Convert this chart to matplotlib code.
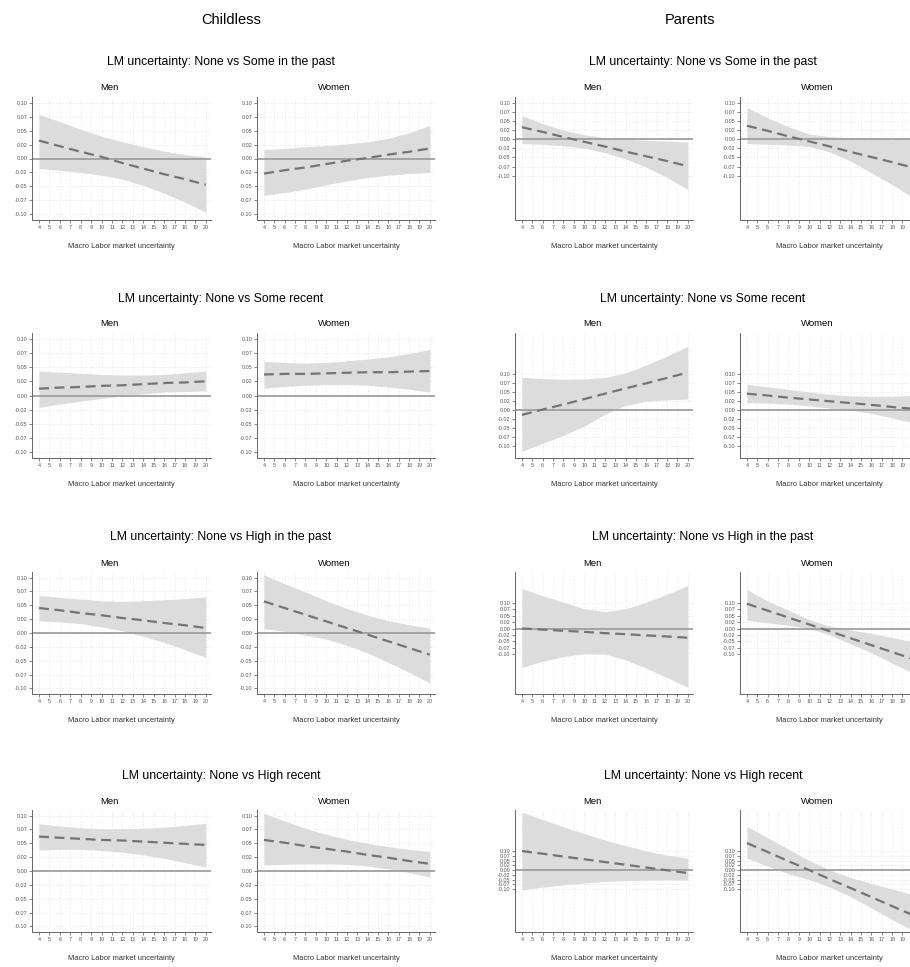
import matplotlib
matplotlib.use("Agg")
import matplotlib.pyplot as plt

plt.rcParams['font.family'] = ['Liberation Sans', 'DejaVu Sans']

# x positions at which the marginal effects are read
x_vals = [4, 6, 8, 10, 12, 14, 16, 18, 20]
x_ticks = list(range(4, 21))
y_ticks = [-0.10, -0.075, -0.05, -0.025, 0.0, 0.025, 0.05, 0.075, 0.10]
y_ticklabels = ["-0.10", "-0.07", "-0.05", "-0.02", "0.00", "0.02", "0.05", "0.07", "0.10"]

groups = ["Childless", "Parents"]
sexes = ["Men", "Women"]
contrasts = [
    "LM uncertainty: None vs Some in the past",
    "LM uncertainty: None vs Some recent",
    "LM uncertainty: None vs High in the past",
    "LM uncertainty: None vs High recent",
]
xlabel = "Macro Labor market uncertainty"

# --- Childless ---
c_some_past_men = [0.032, 0.022, 0.012, 0.003, -0.008, -0.018, -0.028, -0.037, -0.047]
c_some_past_men_lo = [-0.018, -0.021, -0.025, -0.030, -0.037, -0.048, -0.062, -0.078, -0.096]
c_some_past_men_hi = [0.079, 0.066, 0.052, 0.040, 0.030, 0.021, 0.013, 0.007, 0.003]
c_some_past_women = [-0.027, -0.021, -0.016, -0.010, -0.004, 0.001, 0.007, 0.012, 0.018]
c_some_past_women_lo = [-0.066, -0.061, -0.055, -0.047, -0.040, -0.034, -0.030, -0.027, -0.025]
c_some_past_women_hi = [0.016, 0.018, 0.021, 0.023, 0.026, 0.030, 0.036, 0.046, 0.059]

c_some_rec_men = [0.012, 0.014, 0.015, 0.017, 0.018, 0.020, 0.022, 0.023, 0.025]
c_some_rec_men_lo = [-0.021, -0.015, -0.010, -0.005, -0.001, 0.003, 0.006, 0.007, 0.008]
c_some_rec_men_hi = [0.043, 0.041, 0.039, 0.037, 0.036, 0.036, 0.037, 0.040, 0.043]
c_some_rec_women = [0.037, 0.038, 0.038, 0.039, 0.040, 0.041, 0.041, 0.042, 0.043]
c_some_rec_women_lo = [0.013, 0.016, 0.018, 0.019, 0.019, 0.018, 0.015, 0.011, 0.006]
c_some_rec_women_hi = [0.060, 0.058, 0.057, 0.058, 0.061, 0.064, 0.068, 0.074, 0.081]

c_high_past_men = [0.045, 0.041, 0.036, 0.032, 0.027, 0.023, 0.018, 0.014, 0.009]
c_high_past_men_lo = [0.022, 0.020, 0.017, 0.011, 0.004, -0.006, -0.017, -0.030, -0.044]
c_high_past_men_hi = [0.068, 0.064, 0.061, 0.058, 0.057, 0.058, 0.060, 0.062, 0.065]
c_high_past_women = [0.057, 0.045, 0.033, 0.021, 0.009, -0.003, -0.015, -0.027, -0.039]
c_high_past_women_lo = [0.008, 0.003, -0.004, -0.011, -0.022, -0.036, -0.053, -0.071, -0.090]
c_high_past_women_hi = [0.105, 0.089, 0.074, 0.058, 0.044, 0.032, 0.022, 0.015, 0.009]

c_high_rec_men = [0.062, 0.060, 0.058, 0.056, 0.055, 0.053, 0.051, 0.049, 0.047]
c_high_rec_men_lo = [0.038, 0.039, 0.039, 0.037, 0.034, 0.029, 0.023, 0.015, 0.007]
c_high_rec_men_hi = [0.085, 0.081, 0.078, 0.076, 0.076, 0.077, 0.079, 0.082, 0.086]
c_high_rec_women = [0.056, 0.051, 0.045, 0.040, 0.035, 0.029, 0.024, 0.018, 0.013]
c_high_rec_women_lo = [0.011, 0.012, 0.013, 0.013, 0.012, 0.009, 0.004, -0.003, -0.011]
c_high_rec_women_hi = [0.104, 0.090, 0.077, 0.066, 0.057, 0.050, 0.044, 0.039, 0.035]

# --- Parents ---
p_some_past_men = [0.033, 0.020, 0.006, -0.007, -0.020, -0.034, -0.047, -0.060, -0.074]
p_some_past_men_lo = [-0.012, -0.014, -0.018, -0.025, -0.037, -0.054, -0.077, -0.105, -0.138]
p_some_past_men_hi = [0.065, 0.043, 0.025, 0.012, 0.004, 0.000, -0.003, -0.005, -0.008]
p_some_past_women = [0.037, 0.023, 0.008, -0.006, -0.020, -0.035, -0.049, -0.063, -0.078]
p_some_past_women_lo = [-0.012, -0.014, -0.016, -0.020, -0.035, -0.060, -0.092, -0.125, -0.160]
p_some_past_women_hi = [0.087, 0.059, 0.034, 0.014, 0.007, 0.004, 0.003, 0.002, 0.001]

p_some_rec_men = [-0.014, 0.001, 0.015, 0.030, 0.045, 0.060, 0.074, 0.089, 0.104]
p_some_rec_men_lo = [-0.115, -0.093, -0.071, -0.045, -0.012, 0.012, 0.024, 0.028, 0.030]
p_some_rec_men_hi = [0.090, 0.087, 0.085, 0.086, 0.090, 0.103, 0.125, 0.150, 0.177]
p_some_rec_women = [0.045, 0.040, 0.034, 0.029, 0.024, 0.019, 0.014, 0.008, 0.003]
p_some_rec_women_lo = [0.020, 0.019, 0.016, 0.011, 0.005, -0.001, -0.010, -0.022, -0.036]
p_some_rec_women_hi = [0.071, 0.064, 0.057, 0.050, 0.043, 0.039, 0.038, 0.038, 0.040]

p_high_past_men = [0.000, -0.004, -0.009, -0.013, -0.018, -0.022, -0.027, -0.031, -0.036]
p_high_past_men_lo = [-0.152, -0.128, -0.110, -0.098, -0.100, -0.123, -0.155, -0.192, -0.230]
p_high_past_men_hi = [0.157, 0.128, 0.103, 0.077, 0.066, 0.077, 0.103, 0.134, 0.168]
p_high_past_women = [0.097, 0.070, 0.043, 0.016, -0.011, -0.038, -0.065, -0.092, -0.119]
p_high_past_women_lo = [0.032, 0.022, 0.013, 0.000, -0.025, -0.060, -0.095, -0.135, -0.174]
p_high_past_women_hi = [0.152, 0.108, 0.071, 0.035, 0.009, -0.006, -0.019, -0.035, -0.052]

p_high_rec_men = [0.100, 0.086, 0.071, 0.057, 0.042, 0.028, 0.013, -0.001, -0.016]
p_high_rec_men_lo = [-0.105, -0.090, -0.078, -0.068, -0.060, -0.055, -0.053, -0.052, -0.053]
p_high_rec_men_hi = [0.305, 0.265, 0.228, 0.192, 0.158, 0.128, 0.100, 0.078, 0.063]
p_high_rec_women = [0.142, 0.095, 0.047, 0.000, -0.048, -0.095, -0.142, -0.190, -0.237]
p_high_rec_women_lo = [0.063, 0.020, -0.020, -0.050, -0.090, -0.140, -0.200, -0.260, -0.320]
p_high_rec_women_hi = [0.230, 0.170, 0.110, 0.050, 0.000, -0.040, -0.070, -0.100, -0.130]

panels = {
    ("Childless", 0, "Men"): (c_some_past_men, c_some_past_men_lo, c_some_past_men_hi),
    ("Childless", 0, "Women"): (c_some_past_women, c_some_past_women_lo, c_some_past_women_hi),
    ("Childless", 1, "Men"): (c_some_rec_men, c_some_rec_men_lo, c_some_rec_men_hi),
    ("Childless", 1, "Women"): (c_some_rec_women, c_some_rec_women_lo, c_some_rec_women_hi),
    ("Childless", 2, "Men"): (c_high_past_men, c_high_past_men_lo, c_high_past_men_hi),
    ("Childless", 2, "Women"): (c_high_past_women, c_high_past_women_lo, c_high_past_women_hi),
    ("Childless", 3, "Men"): (c_high_rec_men, c_high_rec_men_lo, c_high_rec_men_hi),
    ("Childless", 3, "Women"): (c_high_rec_women, c_high_rec_women_lo, c_high_rec_women_hi),
    ("Parents", 0, "Men"): (p_some_past_men, p_some_past_men_lo, p_some_past_men_hi),
    ("Parents", 0, "Women"): (p_some_past_women, p_some_past_women_lo, p_some_past_women_hi),
    ("Parents", 1, "Men"): (p_some_rec_men, p_some_rec_men_lo, p_some_rec_men_hi),
    ("Parents", 1, "Women"): (p_some_rec_women, p_some_rec_women_lo, p_some_rec_women_hi),
    ("Parents", 2, "Men"): (p_high_past_men, p_high_past_men_lo, p_high_past_men_hi),
    ("Parents", 2, "Women"): (p_high_past_women, p_high_past_women_lo, p_high_past_women_hi),
    ("Parents", 3, "Men"): (p_high_rec_men, p_high_rec_men_lo, p_high_rec_men_hi),
    ("Parents", 3, "Women"): (p_high_rec_women, p_high_rec_women_lo, p_high_rec_women_hi),
}

# layout in pixels
W, H = 910, 967
col_x = {("Childless", "Men"): (32, 211), ("Childless", "Women"): (257, 435),
         ("Parents", "Men"): (515, 693), ("Parents", "Women"): (740, 918)}
row_y = [(97, 220), (333, 458), (572, 694), (810, 932)]
title_y = [62, 299, 537, 776]
group_x = {"Childless": 231, "Parents": 690}
title_x = {"Childless": 221, "Parents": 703}
ylim_childless = (-0.11, 0.11)
ylim_parents = [(-0.222, 0.116), (-0.134, 0.214), (-0.256, 0.221), (-0.326, 0.316)]

fig = plt.figure(figsize=(W / 100, H / 100), dpi=100)


def px_box(x0, x1, y0, y1):
    return [x0 / W, 1 - y1 / H, (x1 - x0) / W, (y1 - y0) / H]


def draw_panel(ax, mean, lo, hi, ylim):
    ax.set_xlim(3.33, 20.5)
    ax.set_ylim(*ylim)
    for xt in x_ticks:
        ax.axvline(xt, color='#ebebeb', lw=0.6, ls=(0, (2, 2)), zorder=0)
    for yt in y_ticks:
        ax.axhline(yt, color='#ebebeb', lw=0.6, ls=(0, (2, 2)), zorder=0)
    ax.fill_between(x_vals, lo, hi, color='#dcdcdc', lw=0, zorder=1)
    ax.axhline(0, color='#a0a0a0', lw=1.3, zorder=2)
    ax.plot(x_vals, mean, color='#747474', lw=1.6, dashes=(4.5, 2.5), zorder=3)
    ax.set_xticks(x_ticks)
    ax.set_yticks(y_ticks)
    ax.set_yticklabels(y_ticklabels)
    ax.tick_params(labelsize=3.9, length=2, width=0.5, pad=1.5, colors='#555555')
    for side in ('top', 'right'):
        ax.spines[side].set_visible(False)
    for side in ('left', 'bottom'):
        ax.spines[side].set_color('#666666')
        ax.spines[side].set_linewidth(0.7)
    ax.set_facecolor('white')


for g in groups:
    fig.text(group_x[g] / W, 1 - 20 / H, g, ha='center', va='center', fontsize=10.5)
    for r, contrast in enumerate(contrasts):
        fig.text(title_x[g] / W, 1 - title_y[r] / H, contrast, ha='center', va='center',
                 fontsize=8.8)
        for s in sexes:
            x0, x1 = col_x[(g, s)]
            y0, y1 = row_y[r]
            ax = fig.add_axes(px_box(x0, x1, y0, y1))
            ylim = ylim_childless if g == "Childless" else ylim_parents[r]
            mean, lo, hi = panels[(g, r, s)]
            draw_panel(ax, mean, lo, hi, ylim)
            cx = (x0 + x1) / 2
            fig.text((cx - 12) / W, 1 - (y0 - 9) / H, s, ha='center', va='center',
                     fontsize=6.8)
            fig.text(cx / W, 1 - (y1 + 27) / H, xlabel, ha='center', va='center',
                     fontsize=5.4, color='#333333')

fig.savefig("out.png", dpi=100)
